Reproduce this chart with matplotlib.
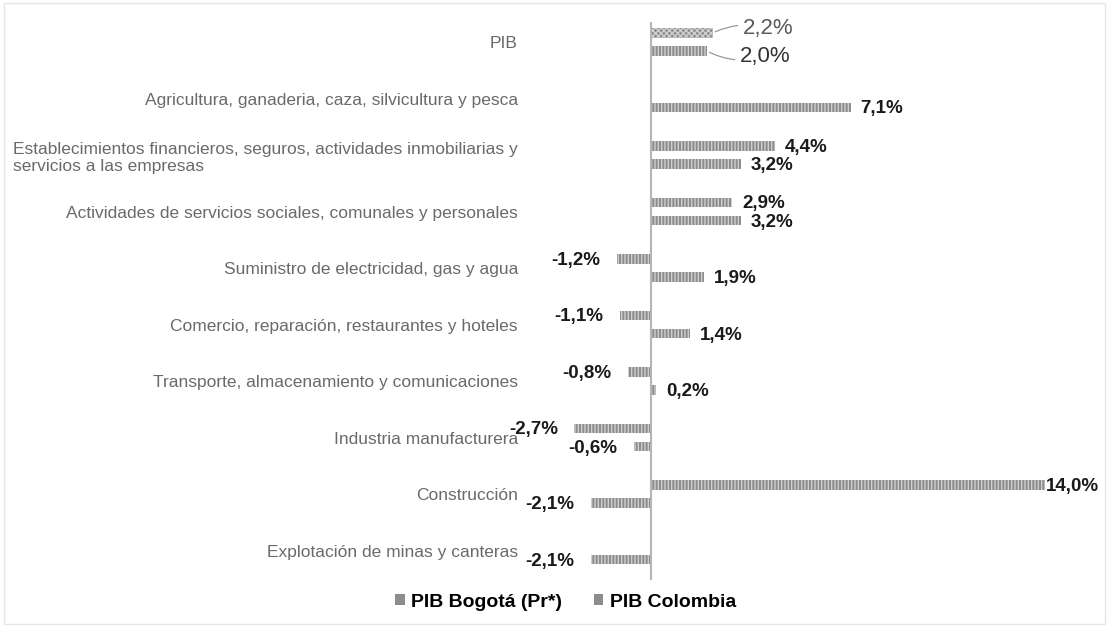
import numpy as np
import matplotlib
matplotlib.use("Agg")
import matplotlib.pyplot as plt
from matplotlib.patches import Patch, Rectangle

plt.rcParams['font.family'] = ['Liberation Sans', 'DejaVu Sans']

# datos (variación %)
sectores = [
    "PIB",
    "Agricultura, ganaderia, caza, silvicultura y pesca",
    "Establecimientos financieros, seguros, actividades inmobiliarias y\nservicios a las empresas",
    "Actividades de servicios sociales, comunales y personales",
    "Suministro de electricidad, gas y agua",
    "Comercio, reparación, restaurantes y hoteles",
    "Transporte, almacenamiento y comunicaciones",
    "Industria manufacturera",
    "Construcción",
    "Explotación de minas y canteras",
]
pib_bogota = [2.2, np.nan, 4.4, 2.9, -1.2, -1.1, -0.8, -2.7, 14.0, np.nan]
pib_colombia = [2.0, 7.1, 3.2, 3.2, 1.9, 1.4, 0.2, -0.6, -2.1, -2.1]
series = ["PIB Bogotá (Pr*)", "PIB Colombia"]

gris = '#8c8c8c'
alto = 0.17
sep = 0.16

fig = plt.figure(figsize=(11.07, 6.28), dpi=100)
ax = fig.add_axes([0.508, 0.0764, 0.486, 0.8885])

y = np.arange(len(sectores))
maximo = np.nanmax(pib_bogota + pib_colombia)


def etiqueta(v):
    return f"{v:.1f}%".replace('.', ',')


for i, (vb, vc) in enumerate(zip(pib_bogota, pib_colombia)):
    for v, dy in ((vb, -sep), (vc, sep)):
        if np.isnan(v):
            continue
        patron = 'xxxxxx' if (i == 0 and dy < 0) else '|||||'
        ax.barh(y[i] + dy, v, height=alto, color=gris, edgecolor='#cfcfcf',
                hatch=patron, linewidth=0)
        if i == 0:
            continue
        if v == maximo:
            desp = 0.5  # la barra más larga lleva la etiqueta pegada
        else:
            desp = 7 if v >= 0 else -12
        ax.annotate(etiqueta(v), (v, y[i] + dy), xytext=(desp, -1),
                    textcoords='offset points', va='center',
                    ha='left' if v >= 0 else 'right',
                    fontsize=13.5, fontweight='bold', color='#1a1a1a')

# etiquetas del PIB con líneas guía
ax.annotate(etiqueta(pib_bogota[0]), (pib_bogota[0], y[0] - sep),
            xytext=(22, 3), textcoords='offset points', va='center', ha='left',
            fontsize=16, color='#5a5a5a',
            arrowprops=dict(arrowstyle='-', color='#999999', lw=0.9,
                            shrinkA=2, shrinkB=2, connectionstyle='arc3,rad=0.2'))
ax.annotate(etiqueta(pib_colombia[0]), (pib_colombia[0], y[0] + sep),
            xytext=(24, -4), textcoords='offset points', va='center', ha='left',
            fontsize=16, color='#333333',
            arrowprops=dict(arrowstyle='-', color='#999999', lw=0.9,
                            shrinkA=2, shrinkB=2, connectionstyle='arc3,rad=-0.2'))

ax.axvline(0, color='#b5b5b5', lw=1.5)
ax.set_xlim(-3.13, 15.95)
ax.set_ylim(9.52, -0.354)
ax.set_xticks([])
ax.set_yticks(y)
ax.set_yticklabels(sectores, fontsize=12.5, color='#6a6a6a')
for lbl in ax.get_yticklabels():
    lbl.set_multialignment('left')
ax.tick_params(axis='y', length=0, pad=32)
for s in ax.spines.values():
    s.set_visible(False)

manejadores = [Patch(facecolor=gris, label=s) for s in series]
fig.legend(handles=manejadores, loc='center', bbox_to_anchor=(0.511, 0.041),
           ncol=2, frameon=False, handlelength=0.5, handleheight=0.5,
           handletextpad=0.35, columnspacing=1.6,
           prop={'weight': 'bold', 'size': 14})

fig.patches.append(Rectangle((0.004, 0.006), 0.994, 0.99, transform=fig.transFigure,
                             fill=False, edgecolor='#e6e6e6', lw=1))

fig.savefig('out.png', dpi=100)
